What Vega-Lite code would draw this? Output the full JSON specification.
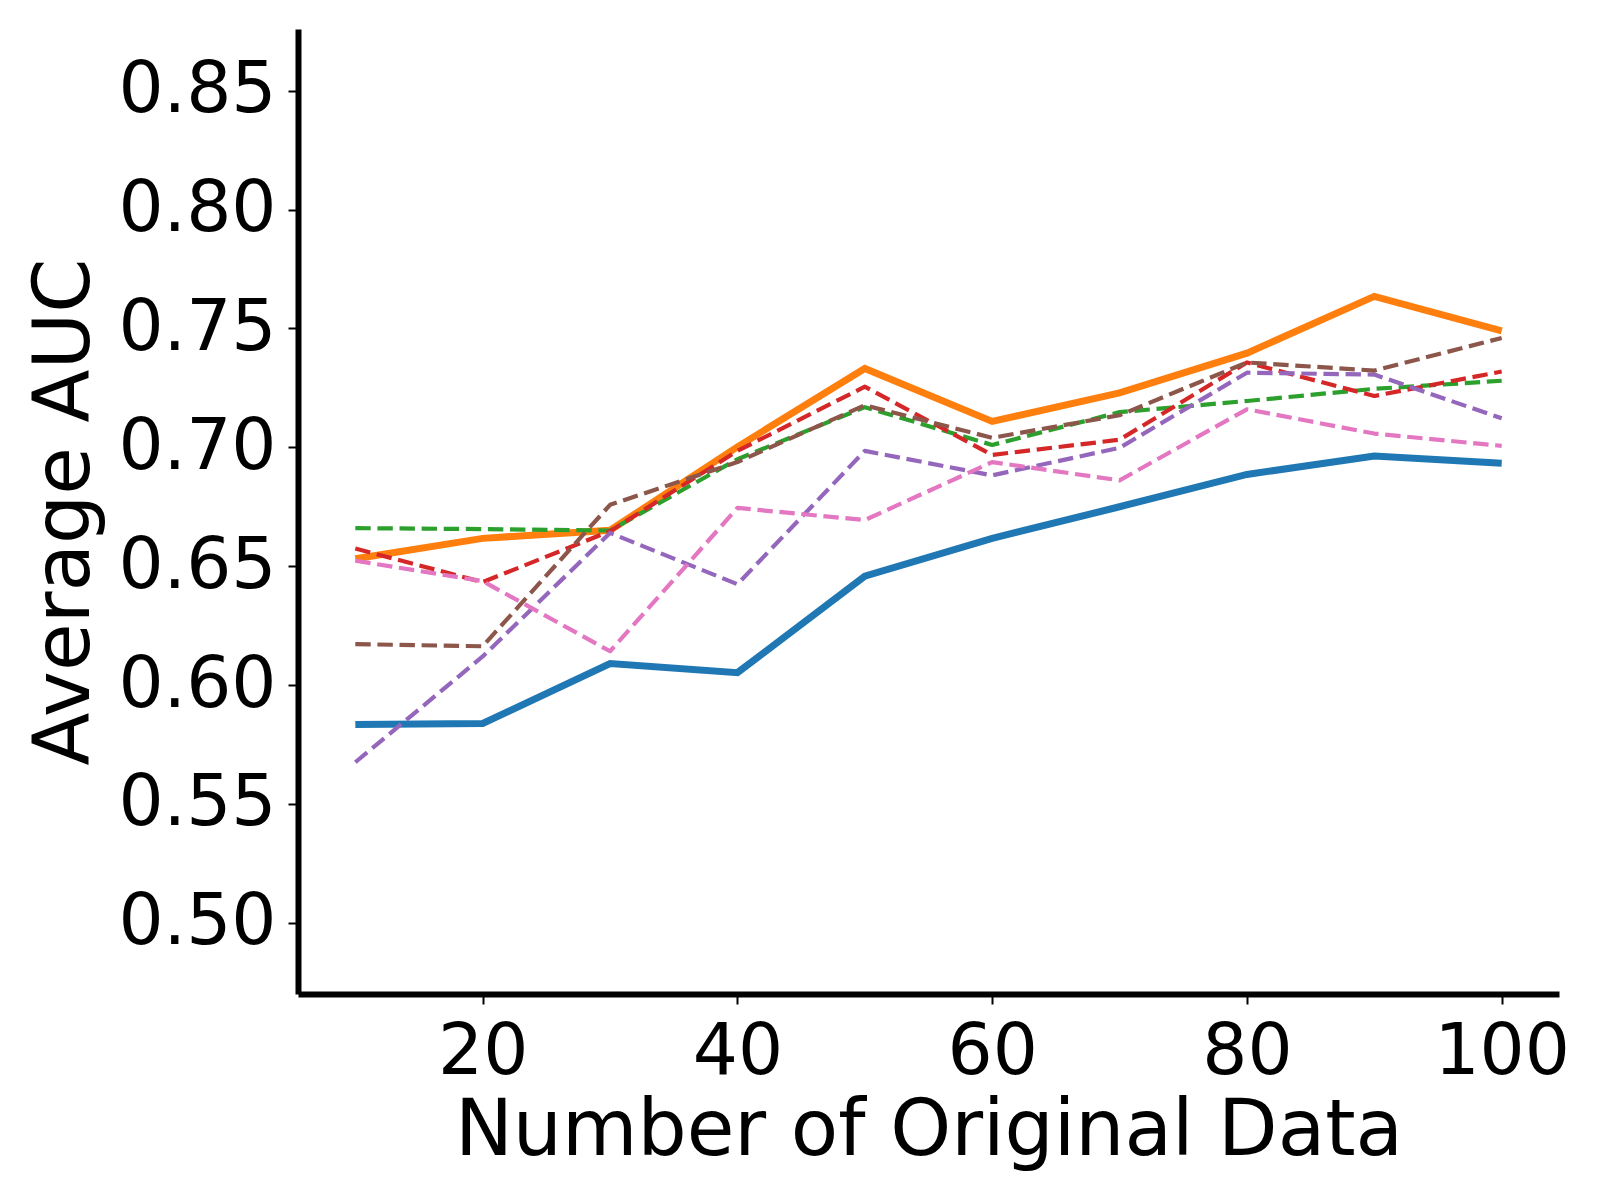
{
  "$schema": "https://vega.github.io/schema/vega-lite/v6.json",
  "width": 1261,
  "height": 965,
  "autosize": {"type": "none"},
  "padding": {"left": 298, "top": 29, "right": 41, "bottom": 206},
  "background": "white",
  "config": {
    "view": {"stroke": null},
    "axis": {
      "grid": false,
      "domainColor": "black",
      "domainWidth": 6,
      "tickColor": "black",
      "tickWidth": 2,
      "tickSize": 10,
      "labelFont": "DejaVu Sans",
      "labelFontSize": 71,
      "labelColor": "black",
      "titleFont": "DejaVu Sans",
      "titleFontSize": 77.5,
      "titleFontWeight": "normal",
      "titleColor": "black"
    }
  },
  "data": {
    "values": [
      {"n": 10, "auc": 0.5834, "series": "A"},
      {"n": 20, "auc": 0.5838, "series": "A"},
      {"n": 30, "auc": 0.609, "series": "A"},
      {"n": 40, "auc": 0.6052, "series": "A"},
      {"n": 50, "auc": 0.6458, "series": "A"},
      {"n": 60, "auc": 0.6617, "series": "A"},
      {"n": 70, "auc": 0.675, "series": "A"},
      {"n": 80, "auc": 0.6886, "series": "A"},
      {"n": 90, "auc": 0.6963, "series": "A"},
      {"n": 100, "auc": 0.6933, "series": "A"},
      {"n": 10, "auc": 0.6531, "series": "B"},
      {"n": 20, "auc": 0.6617, "series": "B"},
      {"n": 30, "auc": 0.6651, "series": "B"},
      {"n": 40, "auc": 0.7002, "series": "B"},
      {"n": 50, "auc": 0.7332, "series": "B"},
      {"n": 60, "auc": 0.7109, "series": "B"},
      {"n": 70, "auc": 0.7229, "series": "B"},
      {"n": 80, "auc": 0.7396, "series": "B"},
      {"n": 90, "auc": 0.7635, "series": "B"},
      {"n": 100, "auc": 0.749, "series": "B"},
      {"n": 10, "auc": 0.666, "series": "C"},
      {"n": 20, "auc": 0.6656, "series": "C"},
      {"n": 30, "auc": 0.665, "series": "C"},
      {"n": 40, "auc": 0.695, "series": "C"},
      {"n": 50, "auc": 0.7169, "series": "C"},
      {"n": 60, "auc": 0.701, "series": "C"},
      {"n": 70, "auc": 0.7148, "series": "C"},
      {"n": 80, "auc": 0.7195, "series": "C"},
      {"n": 90, "auc": 0.7246, "series": "C"},
      {"n": 100, "auc": 0.728, "series": "C"},
      {"n": 10, "auc": 0.6574, "series": "D"},
      {"n": 20, "auc": 0.6433, "series": "D"},
      {"n": 30, "auc": 0.6647, "series": "D"},
      {"n": 40, "auc": 0.6985, "series": "D"},
      {"n": 50, "auc": 0.7255, "series": "D"},
      {"n": 60, "auc": 0.6968, "series": "D"},
      {"n": 70, "auc": 0.7032, "series": "D"},
      {"n": 80, "auc": 0.7357, "series": "D"},
      {"n": 90, "auc": 0.7216, "series": "D"},
      {"n": 100, "auc": 0.7319, "series": "D"},
      {"n": 10, "auc": 0.5675, "series": "E"},
      {"n": 20, "auc": 0.612, "series": "E"},
      {"n": 30, "auc": 0.664, "series": "E"},
      {"n": 40, "auc": 0.6424, "series": "E"},
      {"n": 50, "auc": 0.6985, "series": "E"},
      {"n": 60, "auc": 0.6882, "series": "E"},
      {"n": 70, "auc": 0.6998, "series": "E"},
      {"n": 80, "auc": 0.7314, "series": "E"},
      {"n": 90, "auc": 0.7306, "series": "E"},
      {"n": 100, "auc": 0.7122, "series": "E"},
      {"n": 10, "auc": 0.6172, "series": "F"},
      {"n": 20, "auc": 0.6163, "series": "F"},
      {"n": 30, "auc": 0.6758, "series": "F"},
      {"n": 40, "auc": 0.6938, "series": "F"},
      {"n": 50, "auc": 0.7177, "series": "F"},
      {"n": 60, "auc": 0.704, "series": "F"},
      {"n": 70, "auc": 0.7135, "series": "F"},
      {"n": 80, "auc": 0.7357, "series": "F"},
      {"n": 90, "auc": 0.7323, "series": "F"},
      {"n": 100, "auc": 0.746, "series": "F"},
      {"n": 10, "auc": 0.6523, "series": "G"},
      {"n": 20, "auc": 0.6437, "series": "G"},
      {"n": 30, "auc": 0.6142, "series": "G"},
      {"n": 40, "auc": 0.6745, "series": "G"},
      {"n": 50, "auc": 0.6694, "series": "G"},
      {"n": 60, "auc": 0.6938, "series": "G"},
      {"n": 70, "auc": 0.6861, "series": "G"},
      {"n": 80, "auc": 0.716, "series": "G"},
      {"n": 90, "auc": 0.7058, "series": "G"},
      {"n": 100, "auc": 0.7006, "series": "G"}
    ]
  },
  "encoding": {
    "x": {
      "field": "n",
      "type": "quantitative",
      "scale": {"domain": [5.5, 104.5], "nice": false, "zero": false},
      "axis": {
        "title": "Number of Original Data",
        "values": [20, 40, 60, 80, 100],
        "labelPadding": 13,
        "titlePadding": 6,
        "labelFlush": false,
        "labelOverlap": false
      }
    },
    "y": {
      "field": "auc",
      "type": "quantitative",
      "scale": {"domain": [0.47, 0.876], "nice": false, "zero": false},
      "axis": {
        "title": "Average AUC",
        "values": [0.5, 0.55, 0.6, 0.65, 0.7, 0.75, 0.8, 0.85],
        "format": ".2f",
        "labelPadding": 12,
        "titlePadding": 13,
        "labelFlush": false,
        "labelOverlap": false
      }
    },
    "color": {
      "field": "series",
      "type": "nominal",
      "legend": null,
      "scale": {
        "domain": ["A", "B", "C", "D", "E", "F", "G"],
        "range": ["#1f77b4", "#ff7f0e", "#2ca02c", "#d62728", "#9467bd", "#8c564b", "#e377c2"]
      }
    }
  },
  "layer": [
    {
      "transform": [{"filter": "datum.series === 'A' || datum.series === 'B'"}],
      "mark": {"type": "line", "strokeWidth": 7, "strokeJoin": "miter", "strokeCap": "butt"}
    },
    {
      "transform": [{"filter": "datum.series !== 'A' && datum.series !== 'B'"}],
      "mark": {"type": "line", "strokeWidth": 4.2, "strokeDash": [15.4, 6.7], "strokeJoin": "round", "strokeCap": "butt"}
    }
  ]
}
